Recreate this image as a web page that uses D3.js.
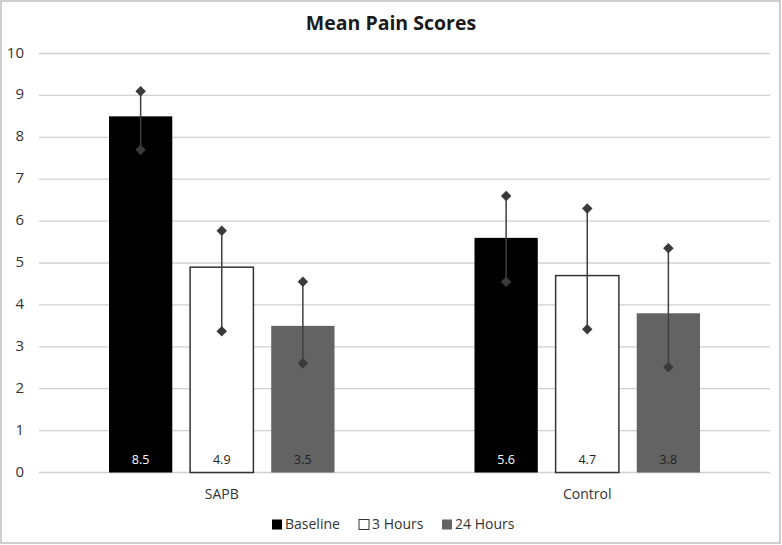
<!DOCTYPE html>
<html>
<head>
<meta charset="utf-8">
<script src="https://cdn.jsdelivr.net/npm/d3@7"></script>
<style>
  body { margin: 0; background: #fff; }
  svg { display: block; font-family: "Open Sans", "Noto Sans", sans-serif; }
</style>
</head>
<body>
<div id="chart"></div>
<script>
// chart data
const groups = ['SAPB', 'Control'];
const series = ['Baseline', '3 Hours', '24 Hours'];
const means = [[8.5, 4.9, 3.5], [5.6, 4.7, 3.8]];
const upper = [[9.1, 5.77, 4.55], [6.6, 6.3, 5.35]];
const lower = [[7.7, 3.37, 2.61], [4.55, 3.42, 2.51]];
const yTicks = [0, 1, 2, 3, 4, 5, 6, 7, 8, 9, 10];

const W = 782, H = 545;
const fills = ['#000000', '#ffffff', '#636363'];
const labelColors = ['#ffffff', '#222222', '#222222'];

const svg = d3.select('#chart').append('svg')
  .attr('width', W)
  .attr('height', H);

// outer border
svg.append('rect')
  .attr('x', 1).attr('y', 1)
  .attr('width', W - 3).attr('height', H - 3)
  .attr('fill', '#fff')
  .attr('stroke', '#bfbfbf')
  .attr('stroke-width', 1.5);

// title
svg.append('text')
  .attr('x', 391).attr('y', 30)
  .attr('text-anchor', 'middle')
  .attr('font-size', 19.5)
  .attr('font-weight', 'bold')
  .attr('fill', '#1a1a1a')
  .text('Mean Pain Scores');

const x0 = d3.scaleBand().domain(groups).range([39, 770]);
const x1 = d3.scaleBand().domain(series).range([70, x0.bandwidth() - 70]).paddingInner(0.22);
const y = d3.scaleLinear().domain([0, 10]).range([472.5, 53.5]);

// gridlines
svg.append('g')
  .selectAll('line')
  .data(yTicks)
  .join('line')
  .attr('x1', 39).attr('x2', 770)
  .attr('y1', d => y(d)).attr('y2', d => y(d))
  .attr('stroke', '#d0d0d0')
  .attr('stroke-width', 1.3);

// y tick labels
svg.append('g')
  .selectAll('text')
  .data(yTicks)
  .join('text')
  .attr('x', 24)
  .attr('y', d => y(d))
  .attr('text-anchor', 'end')
  .attr('dominant-baseline', 'middle')
  .attr('font-size', 15)
  .attr('fill', '#333')
  .text(d => d);

// bars
const gGroups = svg.append('g')
  .selectAll('g')
  .data(groups)
  .join('g')
  .attr('transform', d => `translate(${x0(d)},0)`);

gGroups.each(function (grp, gi) {
  const g = d3.select(this);
  series.forEach((s, si) => {
    const bx = x1(s), bw = x1.bandwidth();
    g.append('rect')
      .attr('x', bx)
      .attr('y', y(means[gi][si]))
      .attr('width', bw)
      .attr('height', y(0) - y(means[gi][si]))
      .attr('fill', fills[si])
      .attr('stroke', si === 1 ? '#333' : 'none')
      .attr('stroke-width', 1.5);

    g.append('text')
      .attr('x', bx + bw / 2)
      .attr('y', 464)
      .attr('text-anchor', 'middle')
      .attr('font-size', 12.5)
      .attr('fill', labelColors[si])
      .text(means[gi][si].toFixed(1));
  });

  // error bars on top of all bars
  series.forEach((s, si) => {
    const cx = x1(s) + x1.bandwidth() / 2;
    g.append('line')
      .attr('x1', cx).attr('x2', cx)
      .attr('y1', y(upper[gi][si]))
      .attr('y2', y(lower[gi][si]))
      .attr('stroke', '#404040')
      .attr('stroke-width', 1.5);
    [upper[gi][si], lower[gi][si]].forEach(v => {
      g.append('path')
        .attr('d', d3.symbol(d3.symbolDiamond2, 70)())
        .attr('transform', `translate(${cx},${y(v)})`)
        .attr('fill', '#3a3a3a');
    });
  });

  // category label
  g.append('text')
    .attr('x', x0.bandwidth() / 2)
    .attr('y', 499)
    .attr('text-anchor', 'middle')
    .attr('font-size', 14)
    .attr('fill', '#333')
    .text(grp);
});

// legend
const legendX = [272, 359, 442];
const legend = svg.append('g')
  .selectAll('g')
  .data(series)
  .join('g')
  .attr('transform', (d, i) => `translate(${legendX[i]},525)`);

legend.append('rect')
  .attr('x', 0).attr('y', -5.5)
  .attr('width', 10).attr('height', 10)
  .attr('fill', (d, i) => fills[i])
  .attr('stroke', (d, i) => i === 1 ? '#333' : 'none')
  .attr('stroke-width', 1);

legend.append('text')
  .attr('x', 13)
  .attr('y', 0)
  .attr('dominant-baseline', 'middle')
  .attr('font-size', 14)
  .attr('fill', '#333')
  .text(d => d);
</script>
</body>
</html>
